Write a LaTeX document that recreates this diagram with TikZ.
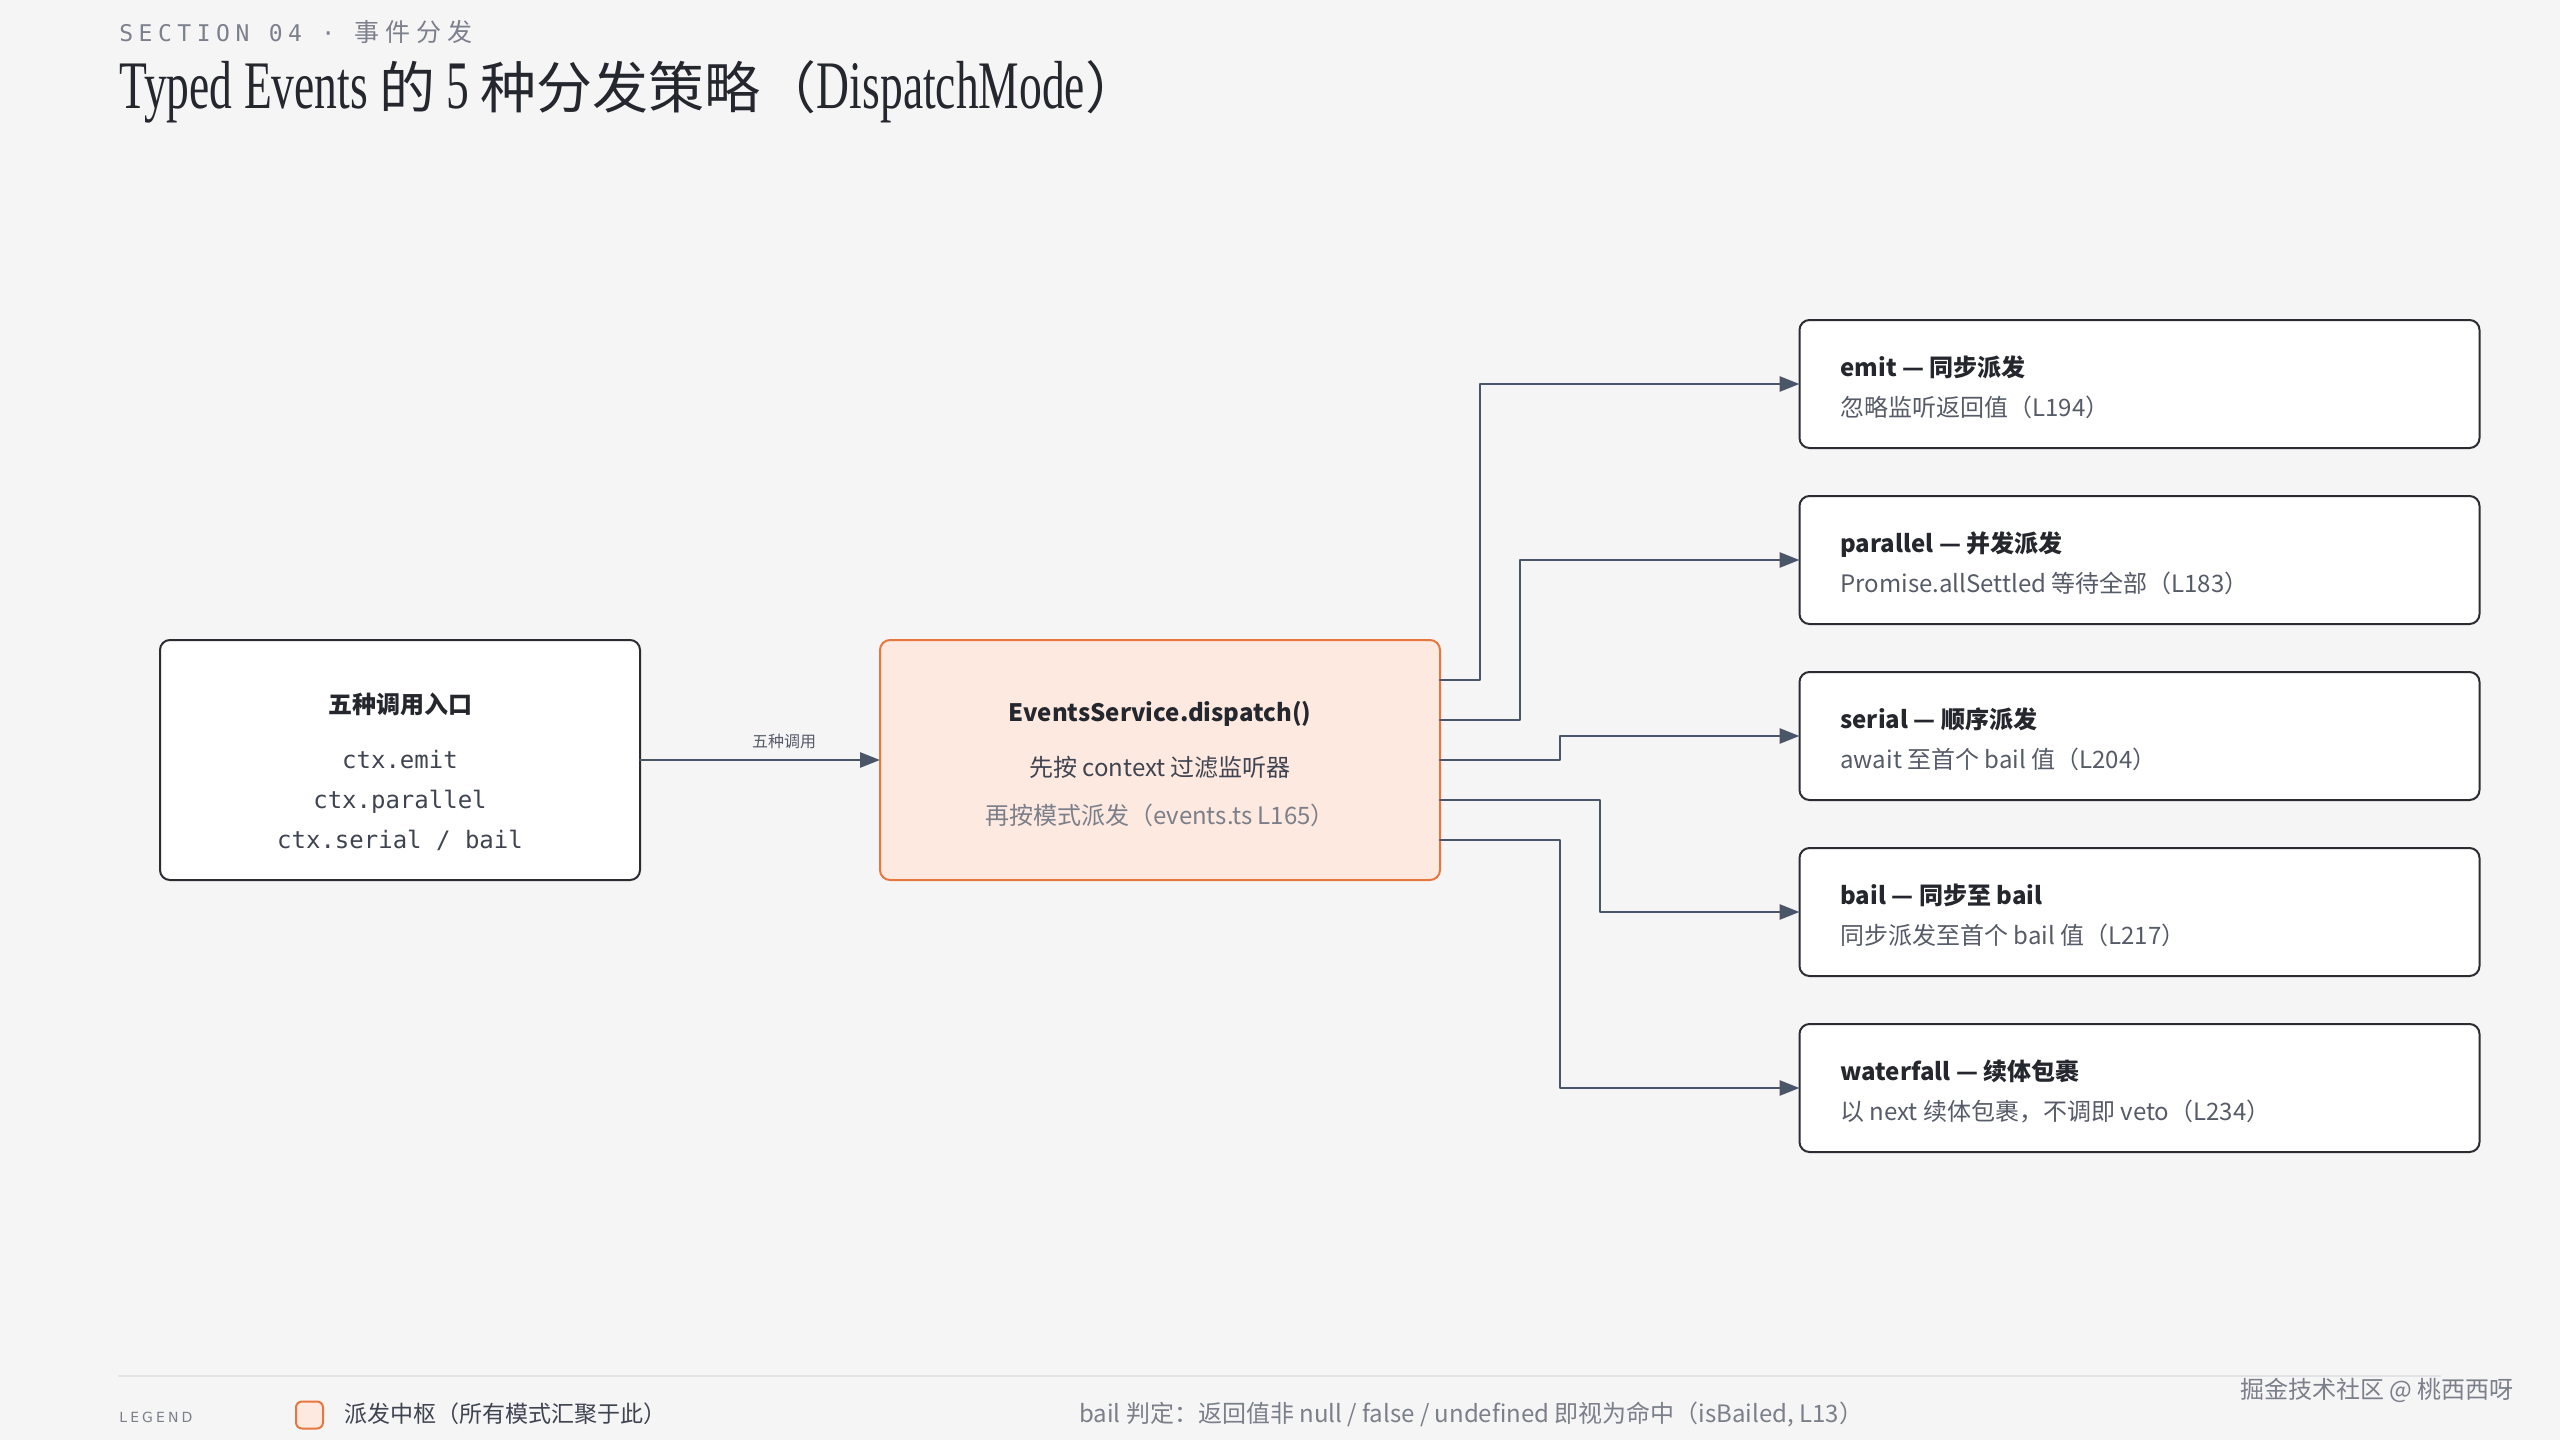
\documentclass[tikz,border=0pt]{standalone}
\usepackage{fontspec}
\setmainfont{Noto Sans CJK SC}
\newfontfamily\monofont{DejaVu Sans Mono}
\newfontfamily\secfont[LetterSpace=24]{DejaVu Sans Mono}
\newfontfamily\seccjk[LetterSpace=24]{Noto Sans CJK SC}
\newfontfamily\titlefont[FakeStretch=0.67]{Liberation Serif}
\newfontfamily\legendfont[LetterSpace=22]{DejaVu Sans}
\usetikzlibrary{arrows.meta}

\definecolor{bgcol}{HTML}{F5F5F6}
\definecolor{ink}{HTML}{25272E}
\definecolor{boxline}{HTML}{2B2D33}
\definecolor{subgrey}{HTML}{555B68}
\definecolor{codegrey}{HTML}{3F4451}
\definecolor{lightgrey}{HTML}{7A7F8A}
\definecolor{secgrey}{HTML}{7C808C}
\definecolor{edgecol}{HTML}{4A5568}
\definecolor{hubfill}{HTML}{FDE9E0}
\definecolor{hubline}{HTML}{E8763F}
\definecolor{rulecol}{HTML}{E2E3E6}

\tikzset{
  modebox/.style={draw=boxline,fill=white,line width=1pt,rounded corners=5pt,minimum width=340pt,minimum height=64pt,inner sep=0pt,outer sep=0pt},
  hubbox/.style={draw=hubline,fill=hubfill,line width=1pt,rounded corners=5pt,minimum width=280pt,minimum height=120pt,inner sep=0pt,outer sep=0pt},
  edge/.style={draw=edgecol,line width=1.4pt,->},
  boxtitle/.style={anchor=base west,inner sep=0pt,text=ink,font=\fontsize{12}{14}\selectfont\bfseries},
  boxsub/.style={anchor=base west,inner sep=0pt,text=subgrey,font=\fontsize{12}{14}\selectfont},
  codeline/.style={anchor=base,inner sep=0pt,text=codegrey,font=\monofont\fontsize{12}{14}\selectfont},
}

\begin{document}
\begin{tikzpicture}[line cap=round,line join=round,>={Triangle[length=10pt,width=7.5pt]},x=0.5pt,y=-0.5pt]
\fill [bgcol] (0,0) rectangle (2560,1440);
\useasboundingbox (0,0) rectangle (2560,1440);
% heading
\node [anchor=base west,inner sep=0pt,text=secgrey,font=\fontsize{11.5}{13}\selectfont] (sec) at (119,41) {{\secfont SECTION 04 · }{\seccjk\fontsize{12.5}{14}\selectfont 事件分发}};
\node [anchor=base west,inner sep=0pt,text=ink] (title) at (119,108) {\fontsize{34}{40}\selectfont\titlefont Typed Events {\rmfamily\fontsize{28}{34}\selectfont 的} 5 {\rmfamily\fontsize{28}{34}\selectfont 种分发策略（}DispatchMode{\rmfamily\fontsize{28}{34}\selectfont ）}};
% boxes
\node [modebox,minimum width=240pt,minimum height=120pt] (entry) at (400,760) {};
\node [hubbox] (hub) at (1160,760) {};
\node [modebox] (emit) at (2139.5,384) {};
\node [modebox] (parallel) at (2139.5,560) {};
\node [modebox] (serial) at (2139.5,736) {};
\node [modebox] (bail) at (2139.5,912) {};
\node [modebox] (waterfall) at (2139.5,1088) {};
% entry text
\node [anchor=base,inner sep=0pt,text=ink,font=\fontsize{12}{14}\selectfont\bfseries] (entry-t) at (400,713) {五种调用入口};
\node [codeline] (entry-a) at (400,768) {ctx.emit};
\node [codeline] (entry-b) at (400,808) {ctx.parallel};
\node [codeline] (entry-c) at (400,848) {ctx.serial / bail};
% hub text
\node [anchor=base,inner sep=0pt,text=ink,font=\fontsize{12}{14}\selectfont\bfseries] (hub-t) at (1160,721) {EventsService.dispatch()};
\node [anchor=base,inner sep=0pt,text=codegrey,font=\fontsize{12}{14}\selectfont] (hub-a) at (1160,776) {先按 context 过滤监听器};
\node [anchor=base,inner sep=0pt,text=lightgrey,font=\fontsize{12}{14}\selectfont] (hub-b) at (1160,824) {再按模式派发（events.ts L165）};
% mode text
\node [boxtitle] (emit-t) at (1840,376) {emit — 同步派发};
\node [boxsub] (emit-s) at (1840,416) {忽略监听返回值（L194）};
\node [boxtitle] (parallel-t) at (1840,552) {parallel — 并发派发};
\node [boxsub] (parallel-s) at (1840,592) {Promise.allSettled 等待全部（L183）};
\node [boxtitle] (serial-t) at (1840,728) {serial — 顺序派发};
\node [boxsub] (serial-s) at (1840,768) {await 至首个 bail 值（L204）};
\node [boxtitle] (bail-t) at (1840,904) {bail — 同步至 bail};
\node [boxsub] (bail-s) at (1840,944) {同步派发至首个 bail 值（L217）};
\node [boxtitle] (waterfall-t) at (1840,1080) {waterfall — 续体包裹};
\node [boxsub] (waterfall-s) at (1840,1120) {以 next 续体包裹，不调即 veto（L234）};
% connectors
\draw [edge] (entry) -- node [pos=0.6,above=5pt,inner sep=0pt,text=subgrey,font=\fontsize{8}{9}\selectfont] (call) {五种调用} (hub);
\draw [edge] ([yshift=40pt]hub.east) -- ++(40,0) |- (emit.west);
\draw [edge] ([yshift=20pt]hub.east) -- ++(80,0) |- (parallel.west);
\draw [edge] (hub.east) -- ++(120,0) |- (serial.west);
\draw [edge] ([yshift=-20pt]hub.east) -- ++(160,0) |- (bail.west);
\draw [edge] ([yshift=-40pt]hub.east) -- ++(120,0) |- (waterfall.west);
% footer
\draw [line width=1pt,color=rulecol] (119,1376) -- (2440,1376);
\node [anchor=west,inner sep=0pt,text=secgrey,font=\legendfont\fontsize{7}{8}\selectfont] (legend) at (119,1417) {LEGEND};
\node [draw=hubline,fill=hubfill,line width=1pt,rounded corners=3pt,minimum size=13.5pt,inner sep=0pt] (legend-box) at (309.5,1415) {};
\node [anchor=west,inner sep=0pt,text=codegrey,font=\fontsize{11.5}{13}\selectfont] (legend-t) at (344,1414) {派发中枢（所有模式汇聚于此）};
\node [anchor=west,inner sep=0pt,text=lightgrey,font=\fontsize{12}{14}\selectfont] (note) at (1079,1414) {bail 判定：返回值非 null / false / undefined 即视为命中（isBailed, L13）};
\node [anchor=west,inner sep=0pt,text=lightgrey,font=\fontsize{12}{14}\selectfont] (mark) at (2240,1390) {掘金技术社区 @ 桃西西呀};
\end{tikzpicture}
\end{document}
